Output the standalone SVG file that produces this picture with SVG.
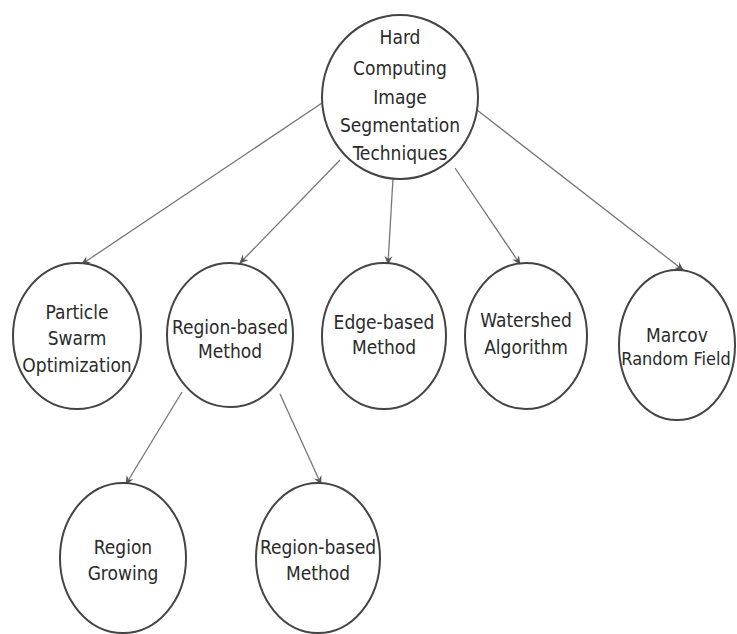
<svg xmlns="http://www.w3.org/2000/svg" width="737" height="634" viewBox="0 0 737 634">
<defs>
<marker id="ah" markerWidth="10" markerHeight="10" refX="8" refY="5" orient="auto" markerUnits="userSpaceOnUse">
<path d="M0,1 L9,5 L0,9 L3,5 Z" fill="#555"/>
</marker>
</defs>
<style>
.n{fill:#fff;stroke:#444;stroke-width:2}
.t{font-family:"DejaVu Sans Condensed","DejaVu Sans",sans-serif;font-size:19px;fill:#2a2a2a;text-anchor:middle}
.c{stroke:#777;stroke-width:1.3;fill:none;marker-end:url(#ah)}
</style>
<rect width="737" height="634" fill="#fff"/>
<g id="connectors">
<line class="c" x1="322" y1="103" x2="82" y2="264"/>
<line class="c" x1="340" y1="160" x2="240" y2="263"/>
<line class="c" x1="393" y1="178" x2="388" y2="264"/>
<line class="c" x1="455" y1="168" x2="520" y2="264"/>
<line class="c" x1="477" y1="110" x2="683" y2="270"/>
<line class="c" x1="182" y1="392" x2="126" y2="484"/>
<line class="c" x1="280" y1="394" x2="321" y2="484"/>
</g>
<g id="root">
<ellipse class="n" cx="400" cy="97" rx="78" ry="82"/>
<text class="t" x="400" y="44">Hard</text>
<text class="t" x="400" y="75">Computing</text>
<text class="t" x="400" y="104">Image</text>
<text class="t" x="400" y="132">Segmentation</text>
<text class="t" x="400" y="160">Techniques</text>
</g>
<g id="pso">
<ellipse class="n" cx="77" cy="336" rx="64" ry="73"/>
<text class="t" x="77" y="319">Particle</text>
<text class="t" x="77" y="345">Swarm</text>
<text class="t" x="77" y="372">Optimization</text>
</g>
<g id="region">
<ellipse class="n" cx="230" cy="335" rx="63" ry="72"/>
<text class="t" x="230" y="334">Region-based</text>
<text class="t" x="230" y="358">Method</text>
</g>
<g id="edge">
<ellipse class="n" cx="384" cy="336" rx="62" ry="73"/>
<text class="t" x="384" y="329">Edge-based</text>
<text class="t" x="384" y="354">Method</text>
</g>
<g id="watershed">
<ellipse class="n" cx="526" cy="336" rx="61" ry="73"/>
<text class="t" x="526" y="327">Watershed</text>
<text class="t" x="526" y="354">Algorithm</text>
</g>
<g id="marcov">
<ellipse class="n" cx="677" cy="345" rx="58" ry="75"/>
<text class="t" x="677" y="342">Marcov</text>
<text class="t" x="676" y="365" style="font-size:18px">Random Field</text>
</g>
<g id="growing">
<ellipse class="n" cx="123" cy="558" rx="63" ry="75"/>
<text class="t" x="123" y="554">Region</text>
<text class="t" x="123" y="580">Growing</text>
</g>
<g id="region2">
<ellipse class="n" cx="318" cy="558" rx="62" ry="75"/>
<text class="t" x="318" y="554">Region-based</text>
<text class="t" x="318" y="580">Method</text>
</g>
</svg>
